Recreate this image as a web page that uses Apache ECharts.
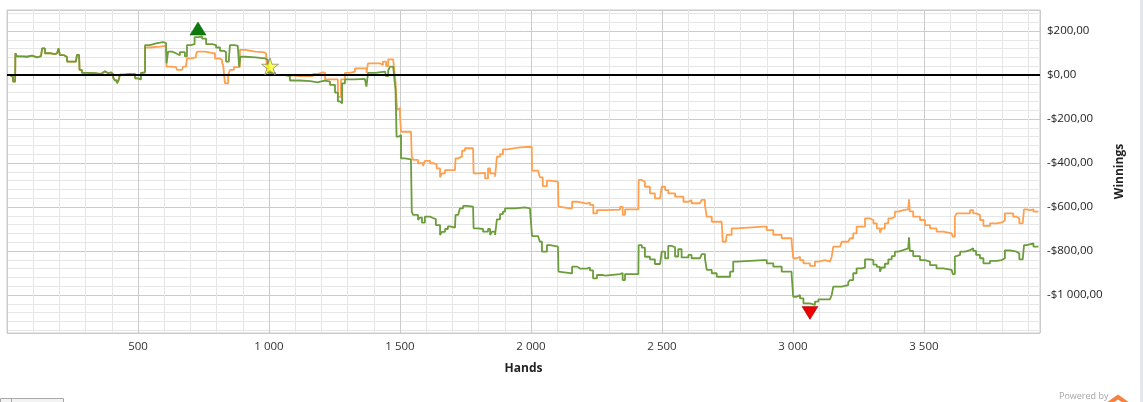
<!DOCTYPE html>
<html><head><meta charset="utf-8">
<script src="https://cdn.jsdelivr.net/npm/echarts@6/dist/echarts.min.js"></script>
<style>html,body{margin:0;padding:0;background:#fff;overflow:hidden}#c{width:1143px;height:402px}</style>
</head><body><div id="c"></div>
<script>
// ---- data ----
const greenHands = [0,11,23,31,32,38,57,76,95,115,130,134,145,164,183,191,197,202,218,229,248,263,267,275,277,286,309,336,355,363,374,386,397,405,412,420,427,431,450,469,481,489,500,511,519,527,546,565,584,596,607,609,615,630,645,660,679,687,702,716,729,745,760,783,798,813,828,836,847,851,869,881,886,891,909,947,985,992,996,1023,1061,1080,1118,1157,1187,1195,1214,1233,1252,1263,1271,1279,1290,1328,1366,1372,1378,1405,1443,1447,1455,1462,1474,1481,1483,1487,1496,1500,1504,1519,1542,1545,1550,1561,1569,1576,1584,1595,1615,1626,1637,1645,1653,1660,1672,1683,1691,1710,1712,1722,1729,1741,1756,1779,1781,1798,1817,1836,1844,1851,1863,1869,1870,1882,1893,1901,1939,1977,1996,2003,2004,2027,2034,2042,2053,2061,2073,2103,2105,2111,2149,2157,2176,2187,2213,2225,2237,2252,2275,2283,2340,2350,2359,2410,2411,2423,2435,2454,2473,2493,2499,2512,2524,2537,2550,2562,2575,2601,2613,2645,2652,2664,2671,2690,2709,2747,2760,2772,2785,2887,2900,2925,2957,2995,3001,3014,3027,3040,3065,3084,3097,3141,3148,3154,3186,3211,3218,3230,3243,3262,3275,3294,3307,3320,3332,3339,3351,3364,3377,3389,3402,3421,3440,3443,3446,3459,3485,3504,3523,3548,3574,3606,3610,3618,3625,3638,3657,3676,3688,3699,3714,3727,3752,3778,3797,3809,3828,3854,3864,3877,3882,3892,3918,3937];
const greenWinnings = [0,-9,-30,-25,99,85,83,88,80,86,83,121,99,95,99,103,121,90,82,61,61,63,91,88,23,10,8,5,8,17,8,12,5,-10,-25,-38,-20,2,5,3,5,-15,-20,10,15,136,143,147,150,145,147,53,106,99,90,104,85,136,140,172,175,165,140,136,125,110,104,61,75,136,132,130,38,83,80,76,70,68,10,0,-5,-25,-28,-33,-30,-25,-30,-45,-80,-120,-129,-38,-20,-18,-15,-53,10,15,12,-5,20,38,36,38,-68,-280,-288,-273,-379,-383,-383,-621,-636,-636,-659,-648,-671,-644,-650,-655,-682,-682,-727,-713,-700,-688,-694,-694,-636,-630,-606,-595,-598,-598,-697,-700,-712,-700,-727,-712,-727,-735,-656,-632,-621,-606,-602,-606,-604,-606,-732,-728,-758,-803,-803,-773,-780,-780,-894,-901,-901,-871,-880,-880,-875,-888,-924,-909,-912,-905,-900,-932,-905,-905,-773,-785,-826,-838,-859,-859,-803,-833,-777,-783,-825,-792,-829,-818,-833,-833,-814,-833,-886,-901,-917,-917,-894,-848,-841,-841,-856,-871,-894,-909,-1008,-1000,-1015,-1038,-1045,-1030,-1020,-1025,-1000,-962,-955,-942,-932,-901,-879,-875,-838,-841,-862,-872,-894,-875,-858,-838,-823,-803,-796,-788,-792,-738,-800,-823,-841,-848,-864,-879,-886,-894,-905,-826,-818,-803,-796,-788,-799,-818,-833,-856,-845,-841,-833,-797,-803,-811,-838,-833,-773,-765,-780,-780];

const orangeHands = [0,11,23,31,32,38,57,76,95,115,130,134,145,164,183,191,197,202,218,229,248,263,267,275,277,286,309,336,355,363,374,386,397,405,412,420,427,431,450,469,481,489,500,511,519,527,546,584,607,609,622,645,649,668,672,683,687,702,721,725,756,786,794,813,821,825,832,844,851,866,881,889,909,947,977,989,992,1004,1023,1069,1118,1168,1187,1206,1214,1252,1263,1275,1290,1309,1328,1347,1372,1378,1405,1424,1435,1447,1455,1474,1481,1483,1489,1496,1500,1504,1542,1545,1550,1569,1588,1595,1615,1626,1640,1653,1660,1672,1710,1712,1722,1737,1748,1779,1781,1798,1825,1836,1844,1863,1869,1870,1882,1893,1908,1958,2003,2004,2027,2034,2045,2053,2061,2073,2103,2105,2111,2149,2157,2176,2213,2225,2238,2252,2283,2340,2350,2359,2410,2411,2423,2435,2454,2473,2493,2499,2512,2524,2537,2550,2569,2582,2601,2613,2645,2652,2664,2671,2690,2728,2732,2744,2747,2766,2785,2887,2900,2925,2957,2995,3001,3014,3027,3040,3065,3084,3097,3122,3141,3148,3154,3180,3186,3211,3218,3230,3243,3262,3275,3294,3307,3320,3332,3339,3351,3364,3377,3389,3402,3421,3440,3443,3446,3459,3485,3504,3523,3548,3574,3606,3610,3618,3625,3657,3676,3688,3699,3714,3727,3752,3778,3797,3809,3828,3841,3854,3864,3877,3882,3892,3904,3918,3937];
const orangeWinnings = [0,-9,-30,-25,99,85,83,88,80,86,83,121,99,95,99,103,121,90,82,61,61,63,91,88,23,10,8,5,8,17,8,12,5,-10,-25,-38,-20,2,5,3,5,-15,-20,5,10,125,129,132,129,38,36,36,23,23,38,38,76,80,90,106,99,99,75,68,55,45,-38,0,23,36,36,114,106,104,99,95,20,10,0,-5,-5,5,12,10,-20,-20,-99,-20,10,15,30,30,10,53,53,45,61,40,71,76,70,-30,-159,-150,-182,-258,-258,-371,-386,-401,-414,-390,-401,-405,-424,-465,-447,-432,-432,-379,-370,-344,-333,-333,-447,-445,-470,-425,-447,-462,-462,-371,-360,-338,-329,-326,-329,-435,-440,-465,-505,-505,-480,-485,-485,-598,-606,-606,-576,-585,-580,-590,-629,-614,-612,-600,-636,-611,-611,-477,-485,-508,-538,-561,-561,-508,-523,-538,-538,-553,-553,-576,-568,-583,-591,-568,-591,-644,-667,-667,-758,-750,-727,-697,-689,-689,-705,-727,-742,-758,-833,-826,-841,-856,-868,-848,-841,-848,-855,-826,-780,-773,-758,-765,-742,-720,-689,-689,-652,-659,-674,-697,-717,-697,-674,-652,-644,-621,-614,-611,-617,-565,-620,-644,-659,-682,-697,-712,-720,-727,-735,-644,-629,-629,-614,-629,-636,-659,-686,-674,-670,-661,-629,-629,-644,-652,-674,-674,-611,-614,-611,-621,-621];

const starPoint = [1004, 40];          // yellow star marker (hands, winnings)
const handsRange = [0, 3943];          // x-axis extent
const winningsRange = [-1172.7, 295.5];// y-axis extent
const minorRange = [-1200, 320];       // extent used for the 40-step minor grid
const minorStep = 40;
const xMajorEvery = 500;

// ---- layout ----
const PLOT = {left: 7, right: 1040, top: 10, bottom: 333};
const W = 1143, H = 402;
const pxPerUnit = (PLOT.bottom - PLOT.top) / (winningsRange[1] - winningsRange[0]);
const minorTop = PLOT.top - (minorRange[1] - winningsRange[1]) * pxPerUnit;
const minorBottom = PLOT.bottom + (winningsRange[0] - minorRange[0]) * pxPerUnit;

const FONT = '"Open Sans", "Liberation Sans", sans-serif';
const MAJOR = '#cbcbcb', MINOR = '#e6e6e6';

function groupThousands(n) { return String(n).replace(/\B(?=(\d{3})+(?!\d))/g, ' '); }
function money(v) {
  const a = Math.abs(Math.round(v));
  return (v < 0 ? '-' : '') + '$' + groupThousands(a) + ',00';
}

const nMinor = Math.round((minorRange[1] - minorRange[0]) / minorStep) + 1;
const minorColors = [];
for (let i = 0; i < nMinor; i++) {
  const val = minorRange[0] + i * minorStep;
  minorColors.push((i === 0 || i === nMinor - 1 || val % 200 === 0) ? 'rgba(0,0,0,0)' : MINOR);
}

const greenData = greenHands.map((h, i) => [h, greenWinnings[i]]);
const orangeData = orangeHands.map((h, i) => [h, orangeWinnings[i]]);

const chart = echarts.init(document.getElementById('c'), null, {renderer: 'canvas'});
chart.setOption({
  animation: false,
  backgroundColor: '#ffffff',
  grid: [
    {left: PLOT.left, top: PLOT.top, width: PLOT.right - PLOT.left, height: PLOT.bottom - PLOT.top,
     show: true, borderColor: MAJOR, borderWidth: 1, backgroundColor: 'rgba(0,0,0,0)'},
    {left: PLOT.left, top: minorTop, width: PLOT.right - PLOT.left, height: minorBottom - minorTop, show: false}
  ],
  xAxis: [
    {gridIndex: 0, type: 'value', min: handsRange[0], max: handsRange[1], interval: 100,
     axisLine: {show: true, lineStyle: {color: MAJOR}},
     axisTick: {show: true, length: 4, lineStyle: {color: MAJOR}},
     axisLabel: {formatter: v => (v > 0 && v % xMajorEvery === 0) ? groupThousands(v) : '',
                 color: '#333', fontSize: 11.5, fontFamily: FONT, margin: 8},
     splitLine: {show: true, lineStyle: {color: [MAJOR, MINOR, MINOR, MINOR, MINOR], width: 1}},
     name: 'Hands', nameLocation: 'middle', nameGap: 30,
     nameTextStyle: {fontWeight: 'bold', color: '#222', fontSize: 12, fontFamily: FONT}},
    {gridIndex: 1, type: 'value', min: handsRange[0], max: handsRange[1], show: false}
  ],
  yAxis: [
    {gridIndex: 0, type: 'value', position: 'right', min: winningsRange[0], max: winningsRange[1], splitNumber: 7,
     axisLine: {show: false},
     axisTick: {show: true, length: 5, lineStyle: {color: MAJOR}},
     axisLabel: {showMinLabel: false, showMaxLabel: false, formatter: money, color: '#222',
                 fontSize: 11.5, fontFamily: FONT, margin: 7},
     splitLine: {show: true, lineStyle: {color: MAJOR, width: 1}},
     name: 'Winnings', nameLocation: 'middle', nameGap: 66, nameRotate: 90,
     nameTextStyle: {fontWeight: 'bold', color: '#222', fontSize: 12, fontFamily: FONT}},
    {gridIndex: 1, type: 'value', position: 'right', min: minorRange[0], max: minorRange[1], interval: minorStep,
     axisLine: {show: false}, axisTick: {show: false}, axisLabel: {show: false},
     splitLine: {show: true, lineStyle: {color: minorColors, width: 1}}}
  ],
  series: [
    {type: 'line', name: 'Net', xAxisIndex: 0, yAxisIndex: 0, data: orangeData, symbol: 'none', step: 'end',
     lineStyle: {color: '#ffa04f', width: 1.8}, itemStyle: {color: '#ffa04f'}, z: 3},
    {type: 'line', name: 'All-in', xAxisIndex: 0, yAxisIndex: 0, data: greenData, symbol: 'none', step: 'end',
     lineStyle: {color: '#6c9d3c', width: 1.8}, itemStyle: {color: '#6c9d3c'}, z: 4,
     markLine: {silent: true, symbol: 'none', label: {show: false},
                lineStyle: {color: '#000', width: 2.2, type: 'solid'}, data: [{yAxis: 0}]},
     markPoint: {label: {show: false}, data: [
       {type: 'max', symbol: 'triangle', symbolSize: [16, 13], symbolOffset: [0, -8],
        itemStyle: {color: '#0d7a0d', borderColor: '#0a5a0a', borderWidth: 0.5}},
       {type: 'min', symbol: 'triangle', symbolRotate: 180, symbolSize: [16, 13], symbolOffset: [0, 8],
        itemStyle: {color: '#ee0000', borderColor: '#8a0000', borderWidth: 0.5}}
     ]}},
    {type: 'scatter', xAxisIndex: 0, yAxisIndex: 0, data: [starPoint], z: 6,
     symbol: 'path://M50,0 L61,35 L98,35 L68,57 L79,91 L50,70 L21,91 L32,57 L2,35 L39,35 Z',
     symbolSize: 17, itemStyle: {color: '#ffff22', borderColor: '#8c8c8c', borderWidth: 1}}
  ],
  graphic: [
    {type: 'rect', shape: {x: W - 3, y: 0, width: 3, height: H}, style: {fill: '#e3e6ea'}},
    {type: 'rect', shape: {x: 0.5, y: 398.5, width: 63, height: 6}, style: {fill: '#f3f3f3', stroke: '#a8a8a8', lineWidth: 1}},
    {type: 'line', shape: {x1: 11.5, y1: 398.5, x2: 11.5, y2: 402}, style: {stroke: '#a8a8a8', lineWidth: 1}},
    {type: 'text', x: 1059, y: 392, style: {text: 'Powered by', fill: '#a5a5a5', font: '9px ' + FONT}},
    {type: 'polyline', shape: {points: [[1108, 404], [1118, 397], [1128, 404]]},
     style: {stroke: '#f5823f', lineWidth: 4, fill: null}}
  ]
});
</script>
</body></html>
